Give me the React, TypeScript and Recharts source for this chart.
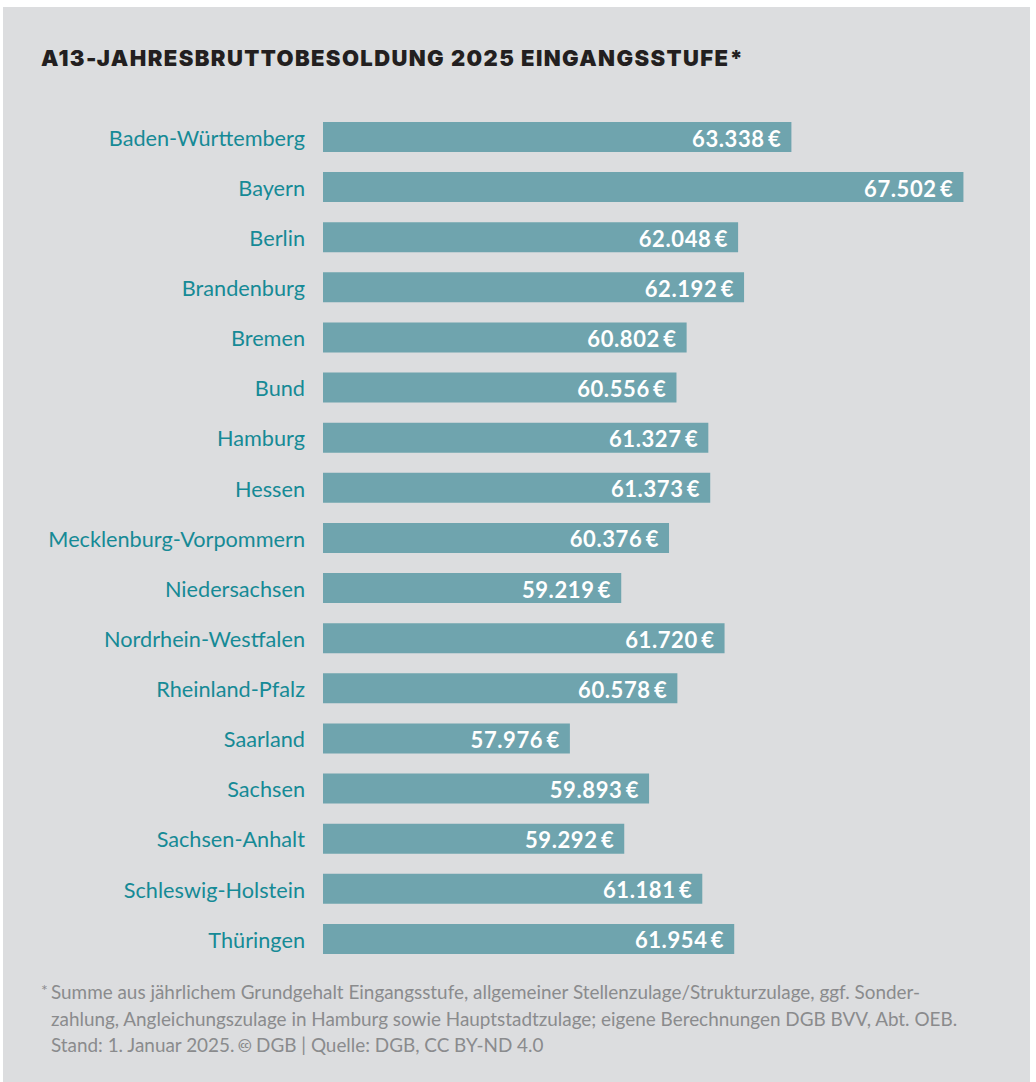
import { BarChart, Bar, XAxis, YAxis, LabelList } from "recharts";

const laender = [
  "Baden-Württemberg",
  "Bayern",
  "Berlin",
  "Brandenburg",
  "Bremen",
  "Bund",
  "Hamburg",
  "Hessen",
  "Mecklenburg-Vorpommern",
  "Niedersachsen",
  "Nordrhein-Westfalen",
  "Rheinland-Pfalz",
  "Saarland",
  "Sachsen",
  "Sachsen-Anhalt",
  "Schleswig-Holstein",
  "Thüringen",
];

const besoldung = [
  63338, 67502, 62048, 62192, 60802, 60556, 61327, 61373, 60376, 59219, 61720,
  60578, 57976, 59893, 59292, 61181, 61954,
];

const footnoteLines = [
  "Summe aus jährlichem Grundgehalt Eingangsstufe, allgemeiner Stellenzulage/Strukturzulage, ggf. Sonder-",
  "zahlung, Angleichungszulage in Hamburg sowie Hauptstadtzulage; eigene Berechnungen DGB BVV, Abt. OEB.",
  "Stand: 1. Januar 2025. \u{1F16D} DGB | Quelle: DGB, CC BY-ND 4.0",
];

const data = laender.map((name, i) => ({ name, value: besoldung[i] }));

const fmt = (v: number) => v.toLocaleString("de-DE") + "\u2009€";

const ValueLabel = (props: any) => {
  const { x, y, width, height, value } = props;
  return (
    <text
      x={x + width - 10}
      y={y + height / 2 + 1}
      textAnchor="end"
      dominantBaseline="central"
      fill="#ffffff"
      fontFamily="Lato"
      fontWeight={700}
      fontSize={22}
      letterSpacing={0.6}
    >
      {fmt(value)}
    </text>
  );
};

export default function App() {
  return (
    <div style={{ position: "absolute", left: 0, top: 0, width: 1036, height: 1082, background: "#fff" }}>
      <div
        style={{
          position: "absolute",
          left: 3,
          top: 7,
          width: 1027,
          height: 1075,
          background: "#dcdddf",
        }}
      />
      <div
        style={{
          position: "absolute",
          left: 41,
          top: 45,
          fontFamily: "Inter",
          fontWeight: 900,
          fontSize: 22,
          color: "#231f20",
          letterSpacing: 1.4,
          whiteSpace: "nowrap",
        }}
      >
        A13-JAHRESBRUTTOBESOLDUNG 2025 EINGANGSSTUFE*
      </div>
      <div style={{ position: "absolute", left: 0, top: 112 }}>
        <BarChart
          width={984}
          height={852}
          data={data}
          layout="vertical"
          margin={{ top: 0, right: 0, bottom: 0, left: 0 }}
        >
          <XAxis type="number" hide domain={[52000, 68000]} allowDataOverflow />
          <YAxis
            type="category"
            dataKey="name"
            width={323}
            axisLine={false}
            tickLine={false}
            tickSize={0}
            tickMargin={18}
            interval={0}
            tick={{ fill: "#168a96", fontFamily: "Lato", fontSize: 21.7, dy: 1 }}
          />
          <Bar dataKey="value" fill="#6fa4ae" barSize={30} isAnimationActive={false}>
            <LabelList dataKey="value" content={ValueLabel} />
          </Bar>
        </BarChart>
      </div>
      <div
        style={{
          position: "absolute",
          left: 41,
          top: 979,
          fontFamily: "Lato",
          fontSize: 18.9,
          lineHeight: "26.5px",
          color: "#8a8b8d",
          whiteSpace: "nowrap",
        }}
      >
        {footnoteLines.map((line, i) => (
          <div key={i} style={{ paddingLeft: 10, position: "relative" }}>
            {i === 0 && <span style={{ position: "absolute", left: 0, top: -2, fontSize: 16 }}>*</span>}
            {line}
          </div>
        ))}
      </div>
    </div>
  );
}
